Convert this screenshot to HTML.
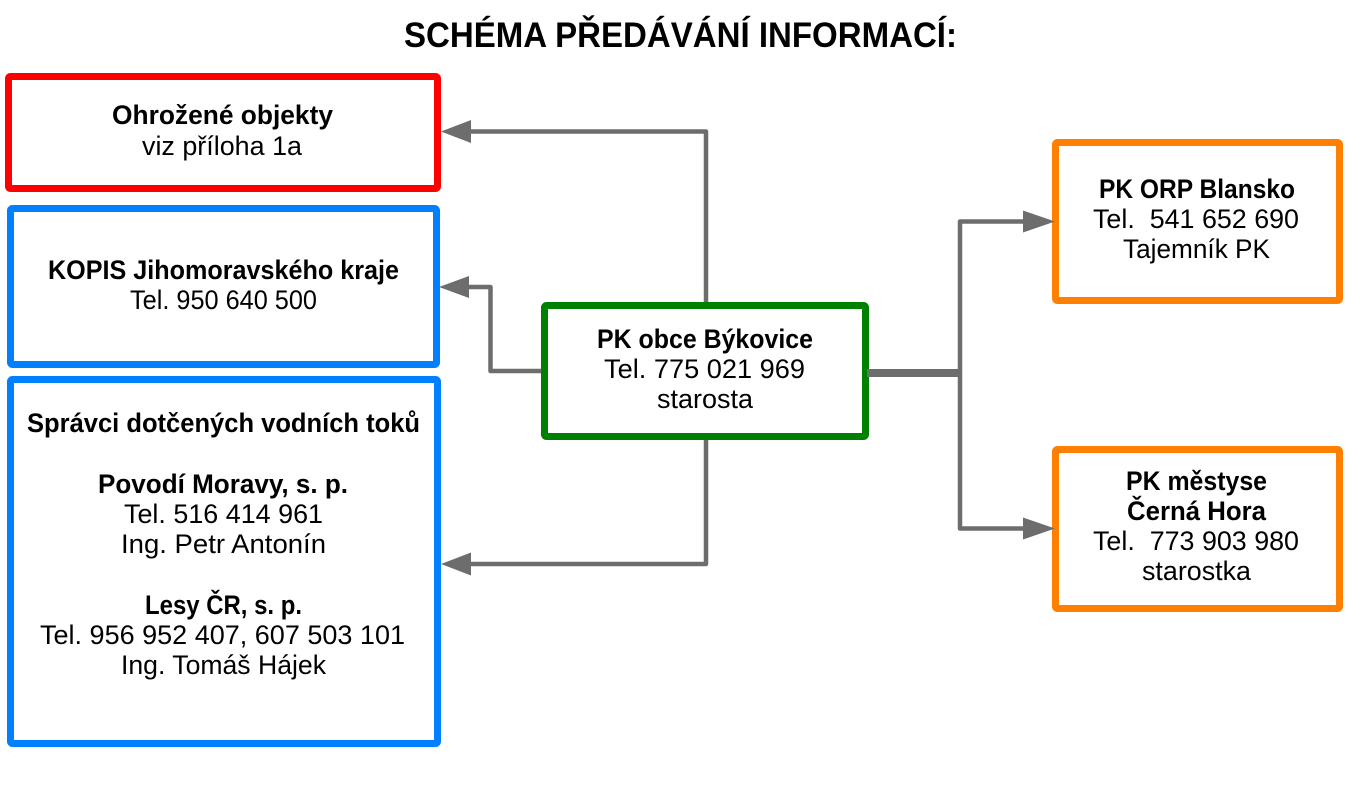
<!DOCTYPE html>
<html>
<head>
<meta charset="utf-8">
<style>
  html,body{margin:0;padding:0;background:#fff;}
  svg{display:block;}
  text{font-family:"Liberation Sans", "DejaVu Sans", sans-serif;fill:#000;}
  .b{font-weight:bold;}
</style>
</head>
<body>
<svg width="1360" height="787" viewBox="0 0 1360 787" xmlns="http://www.w3.org/2000/svg">
  <rect x="0" y="0" width="1360" height="787" fill="#fff"/>

  <!-- Title -->
  <text x="680.5" y="47" font-size="35" class="b" text-anchor="middle" textLength="553" lengthAdjust="spacingAndGlyphs">SCHÉMA PŘEDÁVÁNÍ INFORMACÍ:</text>

  <!-- Boxes -->
  <rect x="8.5" y="76.5" width="429" height="112" rx="2" fill="#fff" stroke="#ff0000" stroke-width="7"/>
  <rect x="10.5" y="208.5" width="426" height="156" rx="2" fill="#fff" stroke="#0080ff" stroke-width="7"/>
  <rect x="10.5" y="379.5" width="427" height="364" rx="2" fill="#fff" stroke="#0080ff" stroke-width="7"/>
  <rect x="544.5" y="305.5" width="321" height="131" rx="2" fill="#fff" stroke="#008000" stroke-width="7"/>
  <rect x="1055.5" y="142.5" width="284" height="158" rx="2" fill="#fff" stroke="#ff8000" stroke-width="7"/>
  <rect x="1055.5" y="449.5" width="284" height="159" rx="2" fill="#fff" stroke="#ff8000" stroke-width="7"/>

  <!-- Connectors -->
  <g stroke="#6d6d6d" fill="none" stroke-width="4.5" stroke-linejoin="round">
    <polyline points="706,302 706,131.5 470,131.5"/>
    <polyline points="541,371 490.5,371 490.5,287 468,287"/>
    <polyline points="706,440 706,564 470,564"/>
    <line x1="867" y1="373" x2="962" y2="373" stroke-width="8"/>
    <polyline points="1024,221.5 960,221.5 960,528.5 1024,528.5"/>
  </g>
  <g fill="#6d6d6d">
    <polygon points="441,131.5 471,120 471,143"/>
    <polygon points="439,287 469,276 469,298"/>
    <polygon points="441,564 471,552.5 471,575.5"/>
    <polygon points="1055,221.5 1023,210.5 1023,232.5"/>
    <polygon points="1055,528.5 1023,517.5 1023,539.5"/>
  </g>

  <!-- Red box text -->
  <text x="222.5" y="124" font-size="26.5" class="b" text-anchor="middle" textLength="221" lengthAdjust="spacingAndGlyphs">Ohrožené objekty</text>
  <text x="222" y="155" font-size="26.5" text-anchor="middle" textLength="160" lengthAdjust="spacingAndGlyphs">viz příloha 1a</text>

  <!-- Blue box 1 text -->
  <text x="223.5" y="279" font-size="26.5" class="b" text-anchor="middle" textLength="351" lengthAdjust="spacingAndGlyphs">KOPIS Jihomoravského kraje</text>
  <text x="223.5" y="309" font-size="26.5" text-anchor="middle" textLength="187" lengthAdjust="spacingAndGlyphs">Tel. 950 640 500</text>

  <!-- Blue box 2 text -->
  <text x="223.5" y="432" font-size="26.5" class="b" text-anchor="middle" textLength="393" lengthAdjust="spacingAndGlyphs">Správci dotčených vodních toků</text>
  <text x="223" y="493" font-size="26.5" class="b" text-anchor="middle" textLength="250" lengthAdjust="spacingAndGlyphs">Povodí Moravy, s. p.</text>
  <text x="223.5" y="523" font-size="26.5" text-anchor="middle" textLength="199" lengthAdjust="spacingAndGlyphs">Tel. 516 414 961</text>
  <text x="223.5" y="553" font-size="26.5" text-anchor="middle" textLength="205" lengthAdjust="spacingAndGlyphs">Ing. Petr Antonín</text>
  <text x="223.5" y="614" font-size="26.5" class="b" text-anchor="middle" textLength="157" lengthAdjust="spacingAndGlyphs">Lesy ČR, s. p.</text>
  <text x="222.5" y="644" font-size="26.5" text-anchor="middle" textLength="365" lengthAdjust="spacingAndGlyphs">Tel. 956 952 407, 607 503 101</text>
  <text x="223.5" y="674" font-size="26.5" text-anchor="middle" textLength="205" lengthAdjust="spacingAndGlyphs">Ing. Tomáš Hájek</text>

  <!-- Green box text -->
  <text x="705" y="348" font-size="26.5" class="b" text-anchor="middle" textLength="216" lengthAdjust="spacingAndGlyphs">PK obce Býkovice</text>
  <text x="704.5" y="378" font-size="26.5" text-anchor="middle" textLength="201" lengthAdjust="spacingAndGlyphs">Tel. 775 021 969</text>
  <text x="705" y="408" font-size="26.5" text-anchor="middle" textLength="96" lengthAdjust="spacingAndGlyphs">starosta</text>

  <!-- Orange box 1 text -->
  <text x="1197" y="198" font-size="26.5" class="b" text-anchor="middle" textLength="196" lengthAdjust="spacingAndGlyphs">PK ORP Blansko</text>
  <text x="1196" y="228" font-size="26.5" text-anchor="middle" textLength="206" lengthAdjust="spacingAndGlyphs" xml:space="preserve">Tel.  541 652 690</text>
  <text x="1196.5" y="258" font-size="26.5" text-anchor="middle" textLength="147" lengthAdjust="spacingAndGlyphs">Tajemník PK</text>

  <!-- Orange box 2 text -->
  <text x="1196.5" y="490" font-size="26.5" class="b" text-anchor="middle" textLength="141" lengthAdjust="spacingAndGlyphs">PK městyse</text>
  <text x="1196.5" y="520" font-size="26.5" class="b" text-anchor="middle" textLength="139" lengthAdjust="spacingAndGlyphs">Černá Hora</text>
  <text x="1196" y="550" font-size="26.5" text-anchor="middle" textLength="206" lengthAdjust="spacingAndGlyphs" xml:space="preserve">Tel.  773 903 980</text>
  <text x="1196.5" y="580" font-size="26.5" text-anchor="middle" textLength="109" lengthAdjust="spacingAndGlyphs">starostka</text>
</svg>
</body>
</html>
